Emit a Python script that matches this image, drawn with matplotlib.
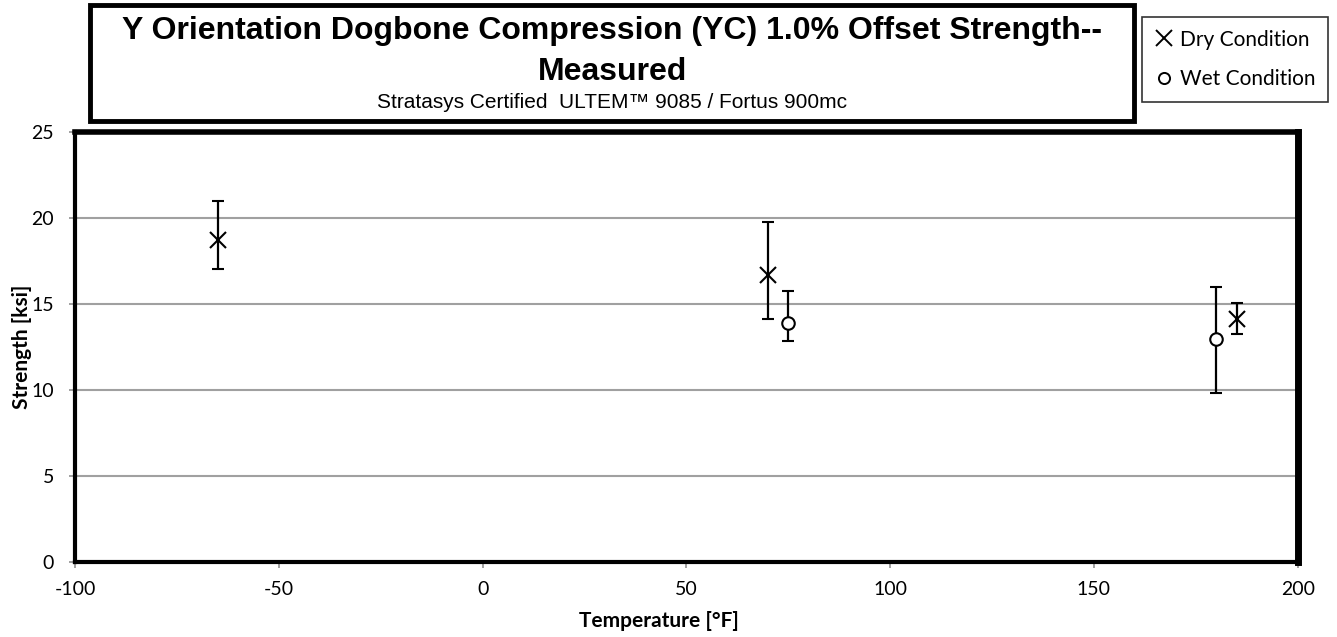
import numpy as np
import matplotlib.pyplot as plt
from matplotlib.patches import Rectangle
from matplotlib.lines import Line2D

# 数据
dry_temp = [-65, 70, 185]
dry_strength = [18.68, 16.69, 14.11]
dry_err_low = [1.66, 2.58, 0.84]
dry_err_high = [2.31, 3.04, 0.93]

wet_temp = [75, 180]
wet_strength = [13.91, 12.97]
wet_err_low = [1.08, 3.13]
wet_err_high = [1.86, 3.00]

x_ticks = [-100, -50, 0, 50, 100, 150, 200]
y_ticks = [0, 5, 10, 15, 20, 25]

title_line1 = "Y Orientation Dogbone Compression (YC) 1.0% Offset Strength--"
title_line2 = "Measured"
subtitle = "Stratasys Certified  ULTEM\u2122 9085 / Fortus 900mc"

plt.rcParams['font.family'] = ['Lato', 'DejaVu Sans']
plt.rcParams['axes.unicode_minus'] = False

W, H = 1337, 637
fig = plt.figure(figsize=(W/100, H/100), dpi=100)
ax = fig.add_axes([75/W, 1-562/H, 1222.7/W, 430.3/H])

ax.errorbar(dry_temp, dry_strength, yerr=[dry_err_low, dry_err_high], fmt='x',
            color='black', ms=11, mew=1.5, elinewidth=1.6, capsize=4, capthick=1.6, zorder=3)
ax.errorbar(wet_temp, wet_strength, yerr=[wet_err_low, wet_err_high], fmt='o',
            color='black', mfc='white', ms=9, mew=1.5, elinewidth=1.6, capsize=4, capthick=1.6, zorder=3)

ax.set_xlim(-100, 200)
ax.set_ylim(0, 25)
ax.set_xticks(x_ticks)
ax.set_yticks(y_ticks)
ax.tick_params(axis='both', labelsize=14, color='#909090', length=4, width=1.2, direction='out')
ax.tick_params(axis='x', pad=10)
ax.tick_params(axis='y', pad=11)
ax.yaxis.grid(True, color='#a0a0a0', lw=1.5)
ax.set_axisbelow(True)
for s in ax.spines.values():
    s.set_color('black')
    s.set_linewidth(3)
ax.spines['top'].set_linewidth(4)
ax.spines['right'].set_linewidth(5)

ax.set_xlabel("Temperature [\u00b0F]", fontsize=15, fontweight='bold')
ax.xaxis.set_label_coords((659-75)/1222.7, -(621-562)/430.3, transform=ax.transAxes)
ax.xaxis.label.set_va('center')
ax.set_ylabel("Strength [ksi]", fontsize=15, fontweight='bold')
ax.yaxis.set_label_coords(-(75-22)/1222.7, 0.5)
ax.yaxis.label.set_va('center')

# 标题框
fig.patches.append(Rectangle((90/W, 1-121/H), 1044/W, 116/H,
                             transform=fig.transFigure, fill=False, ec='black', lw=3.5))
cx = 612/W
fig.text(cx, 1-31/H, title_line1, ha='center', va='center', fontsize=23,
         fontweight='bold', family='Liberation Sans')
fig.text(cx, 1-72/H, title_line2, ha='center', va='center', fontsize=23,
         fontweight='bold', family='Liberation Sans')
fig.text(cx, 1-103/H, subtitle, ha='center', va='center', fontsize=15,
         family=['Liberation Sans', 'DejaVu Sans'])

# 图例
handles = [Line2D([], [], ls='none', marker='x', color='black', ms=12, mew=1.4),
           Line2D([], [], ls='none', marker='o', color='black', mfc='white', ms=8, mew=1.4)]
leg = fig.legend(handles, ['Dry Condition', 'Wet Condition'], loc='upper left',
                 bbox_to_anchor=(1142/W, 1-17/H), fontsize=15, frameon=True, fancybox=False,
                 edgecolor='black', handlelength=0.9, handletextpad=0.3, borderpad=0.6,
                 labelspacing=0.95, borderaxespad=0)
leg.get_frame().set_linewidth(1.2)

fig.savefig('out.png', dpi=100)
